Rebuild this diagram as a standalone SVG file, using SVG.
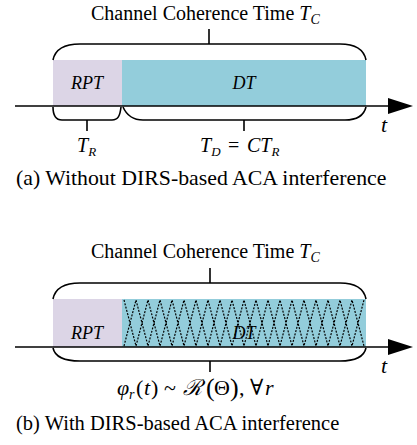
<svg xmlns="http://www.w3.org/2000/svg" width="417" height="445" viewBox="0 0 417 445" font-family="'Liberation Serif', 'Times New Roman', 'DejaVu Serif', serif">
<style>
text, tspan { font-family: "Liberation Serif", "Times New Roman", "DejaVu Serif", serif; fill: #000; }
.it { font-style: italic; }
.ln { fill: none; stroke: #000; stroke-width: 1.6; }
.zz { fill: none; stroke: #000; stroke-width: 1.2; stroke-dasharray: 2 1.4; }
.rpt { fill: #DCD5E6; }
.dt { fill: #93CDDB; }
</style>
<rect width="417" height="445" fill="#fff"/>

<!-- Panel (a) -->
<g id="title-a">
  <text x="91" y="20" font-size="20">Channel Coherence Time <tspan class="it">T</tspan><tspan class="it" font-size="14" dy="4">C</tspan></text>
</g>
<g id="rpt-a">
  <rect class="rpt" x="53" y="60" width="69" height="46"/>
  <text class="it" x="87" y="89" font-size="18" text-anchor="middle">RPT</text>
</g>
<g id="dt-a">
  <rect class="dt" x="122" y="60" width="244" height="46"/>
  <text class="it" x="244" y="89" font-size="18" text-anchor="middle">DT</text>
</g>
<g id="label-tr">
  <text x="77" y="152" font-size="20"><tspan class="it">T</tspan><tspan class="it" font-size="13" dy="4">R</tspan></text>
</g>
<g id="label-td">
  <text x="200" y="152" font-size="20"><tspan class="it">T</tspan><tspan class="it" font-size="13" dy="4">D</tspan><tspan dy="-4" x="223"> = </tspan><tspan class="it" x="247">CT</tspan><tspan class="it" font-size="13" dy="4">R</tspan></text>
</g>
<g id="t-a">
  <text class="it" x="381" y="132" font-size="22">t</text>
</g>
<g id="caption-a">
  <text x="16" y="185" font-size="21.8">(a) Without DIRS-based ACA interference</text>
</g>

<!-- Panel (b) -->
<g id="title-b">
  <text x="91" y="258" font-size="20">Channel Coherence Time <tspan class="it">T</tspan><tspan class="it" font-size="14" dy="4">C</tspan></text>
</g>
<g id="rpt-b">
  <rect class="rpt" x="53" y="299" width="69" height="48"/>
  <text class="it" x="87" y="339" font-size="18" text-anchor="middle">RPT</text>
</g>
<g id="dt-b">
  <rect class="dt" x="122" y="299" width="244" height="48"/>
  <polyline class="zz" points="124,300 136,346 148,300 160,346 172,300 184,346 196,300 208,346 220,300 232,346 244,300 256,346 268,300 280,346 292,300 304,346 316,300 328,346 340,300 352,346 364,300"/>
  <polyline class="zz" points="124,346 136,300 148,346 160,300 172,346 184,300 196,346 208,300 220,346 232,300 244,346 256,300 268,346 280,300 292,346 304,300 316,346 328,300 340,346 352,300 364,346"/>
  <text class="it" x="244" y="339" font-size="18" text-anchor="middle">DT</text>
</g>
<g id="t-b">
  <text class="it" x="381" y="373" font-size="22">t</text>
</g>
<g id="formula-b">
  <text y="395" font-size="22"><tspan class="it" x="117">φ</tspan><tspan class="it" font-size="14" x="129" dy="4">r</tspan><tspan x="136" dy="-4">(</tspan><tspan class="it" x="144">t</tspan><tspan x="151">)</tspan><tspan x="164">~</tspan><tspan class="it" x="183">ℛ</tspan><tspan font-size="26" x="206" dy="1">(</tspan><tspan x="214" dy="-1">Θ</tspan><tspan font-size="26" x="230" dy="1">)</tspan><tspan x="239" dy="-1">,</tspan><tspan x="250">∀</tspan><tspan class="it" x="265">r</tspan></text>
</g>
<g id="caption-b">
  <text x="16" y="430" font-size="20.5">(b) With DIRS-based ACA interference</text>
</g>

<!-- Connectors -->
<g id="connectors">
  <!-- panel a -->
  <line class="ln" x1="209" y1="29" x2="209" y2="44"/>
  <path class="ln" d="M53,60 C55,50 64,44 80,44 H340 C355,44 364,50 366,60"/>
  <line class="ln" x1="15" y1="106" x2="392" y2="106"/>
  <polygon points="388,98 413,106 388,114" fill="#000"/>
  <path class="ln" d="M53,107 C53,116 56,120 62,120 H112 C118,120 120,116 121,107"/>
  <line class="ln" x1="87" y1="120" x2="87" y2="131"/>
  <path class="ln" d="M123,107 C127,116 133,120 143,120 H345 C358,120 364,115 366,107"/>
  <line class="ln" x1="244" y1="120" x2="244" y2="131"/>
  <!-- panel b -->
  <line class="ln" x1="210" y1="268" x2="210" y2="283"/>
  <path class="ln" d="M53,299 C55,289 64,283 80,283 H340 C355,283 364,289 366,299"/>
  <line class="ln" x1="15" y1="347" x2="392" y2="347"/>
  <polygon points="388,339 413,347 388,355" fill="#000"/>
  <path class="ln" d="M53,348 C55,357 64,361 80,361 H340 C355,361 364,357 366,348"/>
  <line class="ln" x1="210" y1="361" x2="210" y2="372"/>
</g>
</svg>
